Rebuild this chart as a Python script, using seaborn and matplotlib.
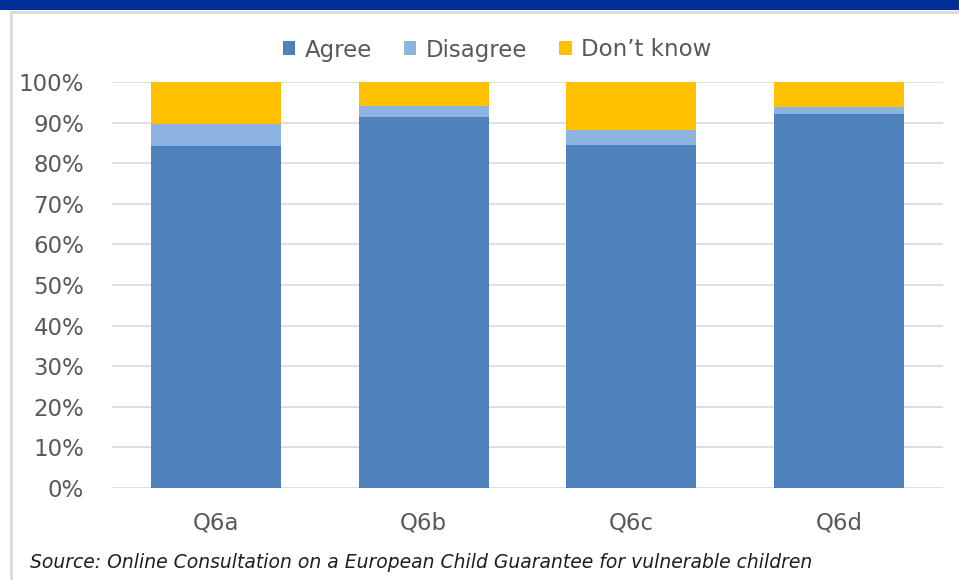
import matplotlib
matplotlib.use("Agg")
import matplotlib.pyplot as plt
from matplotlib.patches import Rectangle, Patch
import numpy as np
import pandas as pd
import seaborn as sns

# Survey responses per question (share of respondents, %)
questions = ["Q6a", "Q6b", "Q6c", "Q6d"]
agree = [84.2, 91.5, 84.6, 92.1]
disagree = [5.5, 2.6, 3.7, 1.7]
dont_know = [10.3, 5.9, 11.7, 6.2]

series_names = ["Agree", "Disagree", "Don\u2019t know"]
colors = ["#4F81BD", "#8DB3E2", "#FFC000"]
y_ticks = [0, 10, 20, 30, 40, 50, 60, 70, 80, 90, 100]

df = pd.DataFrame({"question": questions, "agree": agree,
                   "disagree": disagree, "dont_know": dont_know})
df["agree_dis"] = df["agree"] + df["disagree"]
df["total"] = df["agree_dis"] + df["dont_know"]

sns.set_style("white")
plt.rcParams["font.family"] = ["DejaVu Sans"]

W, H = 959, 580
fig = plt.figure(figsize=(W / 100, H / 100), dpi=100)
ax = fig.add_axes([112 / W, 1 - 487.7 / H, 831 / W, (487.7 - 82.3) / H])

# Stacked bars: draw cumulative totals back to front
bw = 0.626
for col, c in zip(["total", "agree_dis", "agree"], colors[::-1]):
    sns.barplot(data=df, x="question", y=col, color=c, width=bw,
                saturation=1, linewidth=0, ax=ax, zorder=3)

ax.set_ylim(0, 100)
ax.set_xlim(-0.5, 3.5)
ax.set_yticks(y_ticks)
ax.set_yticklabels([f"{t}%" for t in y_ticks])
ax.set_xlabel("")
ax.set_ylabel("")
ax.grid(axis="y", color="#D9D9D9", linewidth=1.2, zorder=0)
ax.grid(axis="x", visible=False)
for s in ax.spines.values():
    s.set_visible(False)
ax.tick_params(axis="y", length=0, pad=20, labelsize=16.5, labelcolor="#595959")
ax.tick_params(axis="x", length=0, pad=17, labelsize=16.5, labelcolor="#595959")

handles = [Patch(facecolor=c, edgecolor="none") for c in colors]
fig.legend(handles, series_names, loc="center", bbox_to_anchor=(497 / W, 1 - 50 / H),
           ncol=3, frameon=False, fontsize=16.5, labelcolor="#595959",
           handlelength=0.55, handleheight=0.55, handletextpad=0.4,
           columnspacing=1.4)

# Page decorations: heading strip and chart frame
fig.patches.append(Rectangle((0, 1 - 10 / H), 1, 10 / H, transform=fig.transFigure,
                             facecolor="#002D96", edgecolor="none"))
fig.patches.append(Rectangle((11 / W, -0.1), 1.2, 1.1 - 12 / H, transform=fig.transFigure,
                             facecolor="none", edgecolor="#D9D9D9", linewidth=2))

fig.text(30 / W, 1 - 563 / H, "Source: Online Consultation on a European Child Guarantee for vulnerable children",
         fontsize=13.5, style="italic", color="#1F1F1F", va="center", ha="left")

fig.savefig("out.png", dpi=100)
